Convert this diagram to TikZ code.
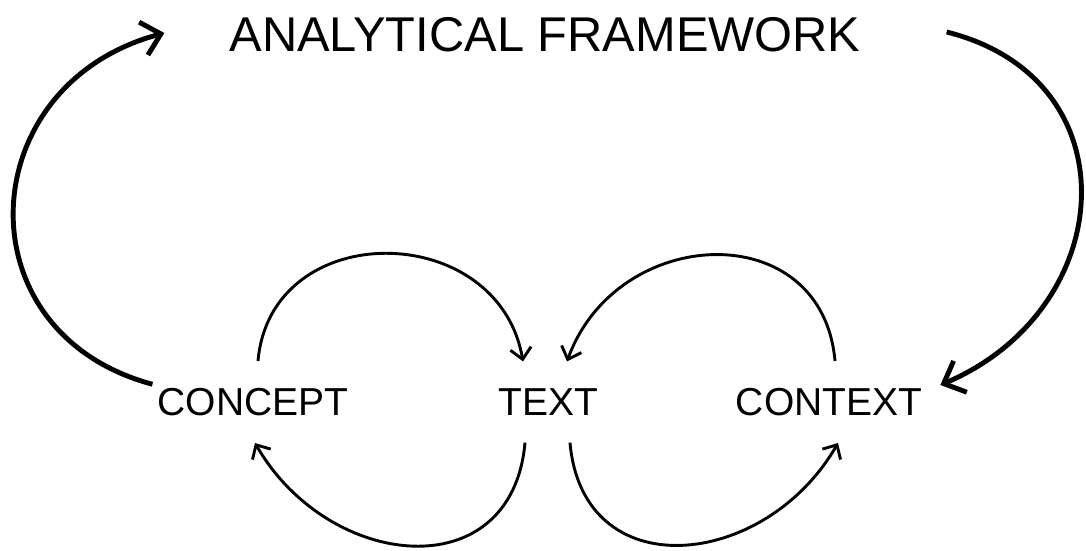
\documentclass[tikz,border=0pt]{standalone}
\usepackage{fontspec}
\setmainfont{Liberation Sans}
\usetikzlibrary{arrows.meta}
\tikzset{
  term/.style={font=\fontsize{39}{47}\selectfont,inner xsep=5pt,inner ysep=27pt},
  small/.style={line width=2.9pt,-{Straight Barb[length=11pt,width=21pt]}},
  big/.style={line width=4.9pt,-{Straight Barb[length=18pt,width=34pt]}}
}
\begin{document}
\begin{tikzpicture}[x=1pt,y=1pt]
\useasboundingbox (0,0) rectangle (1086,550);
\node[font=\fontsize{48.8}{58}\selectfont,inner sep=0pt] (frame) at (545,515) {ANALYTICAL FRAMEWORK};
\foreach \name/\x/\label in {concept/253/CONCEPT,text/548/TEXT,context/829/CONTEXT}{
\node[term] (\name) at (\x,148) {\label};
}
% inner loops
\draw[small] ([xshift=5pt]concept.north) to[out=85,in=100,looseness=1.4] ([xshift=-25pt]text.north);
\draw[small] ([xshift=-23pt]text.south) to[out=-95,in=-60,looseness=1.4] ([xshift=2pt]concept.south);
\draw[small] ([xshift=6pt]context.north) to[out=95,in=70,looseness=1.4] ([xshift=19pt]text.north);
\draw[small] ([xshift=22pt]text.south) to[out=-85,in=-120,looseness=1.4] ([xshift=9pt]context.south);
% outer loop
\draw[big] (concept.170) to[out=165,in=195,looseness=1.45] ([xshift=-65pt,yshift=2pt]frame.west);
\draw[big] ([xshift=86pt,yshift=3pt]frame.east) to[out=-14,in=23,looseness=1.4] ([xshift=13pt,yshift=17pt]context.east);
\end{tikzpicture}
\end{document}
